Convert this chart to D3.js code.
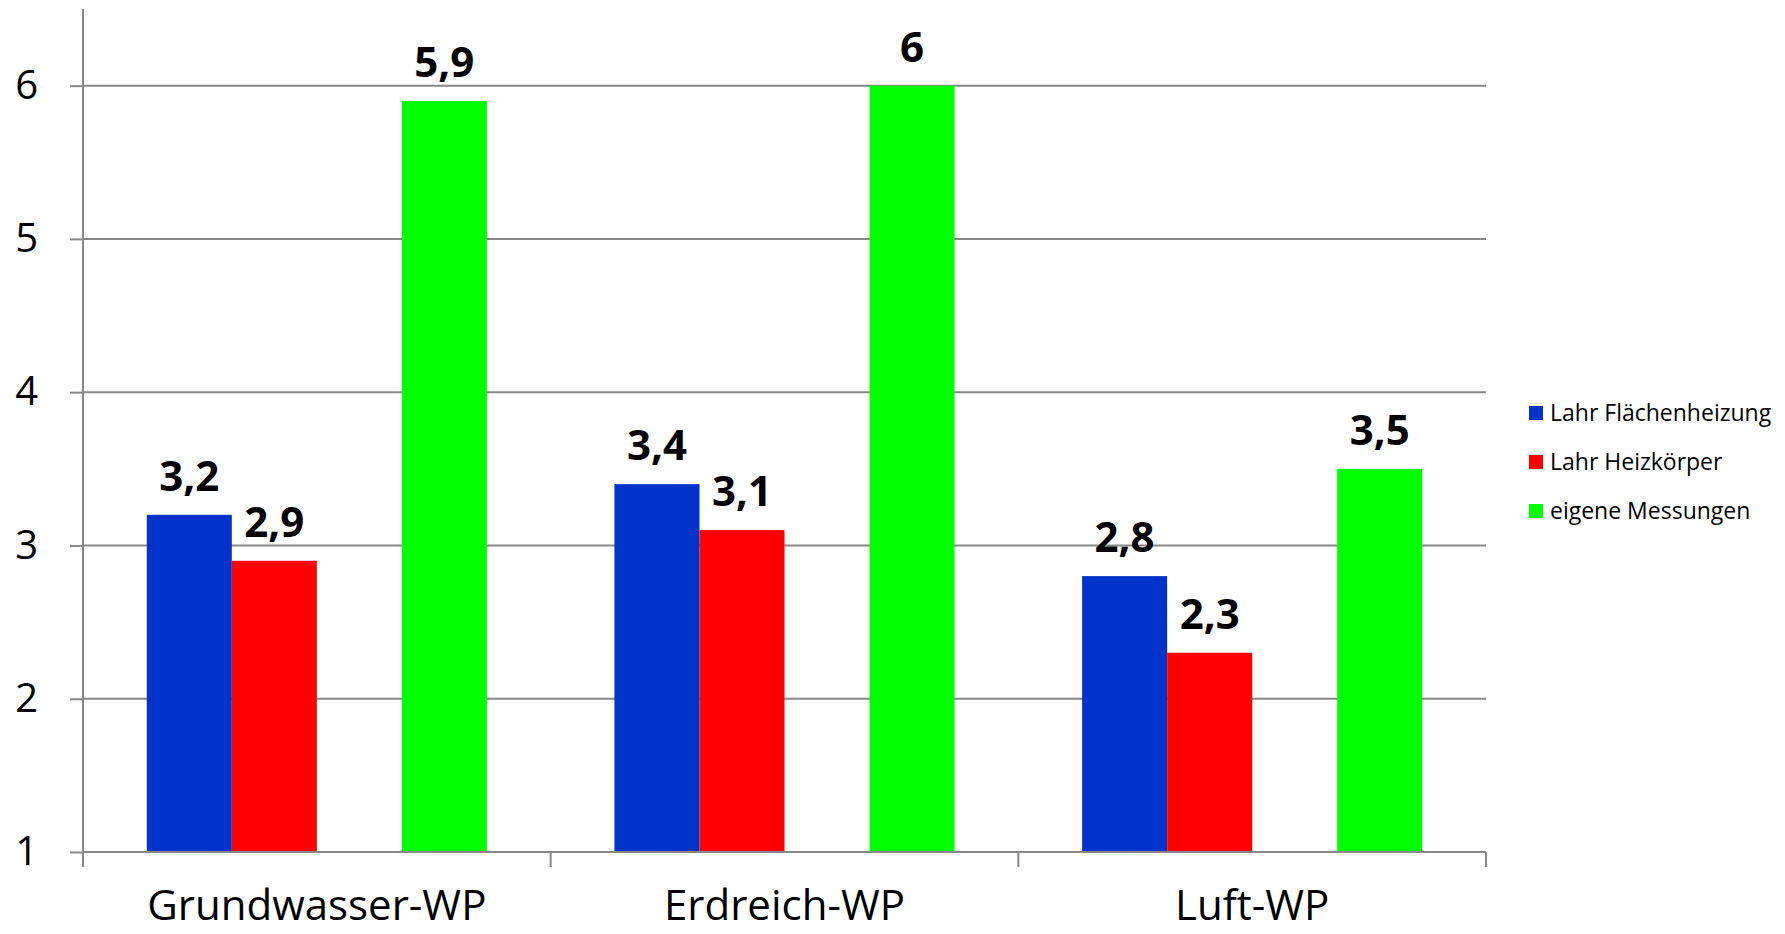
<!DOCTYPE html>
<html>
<head>
<meta charset="utf-8">
<script src="https://cdn.jsdelivr.net/npm/d3@7"></script>
<style>
  body { margin: 0; background: #fff; }
  svg { display: block; font-family: "Open Sans", "Noto Sans", sans-serif; }
</style>
</head>
<body>
<div id="chart"></div>
<script>
// chart data
var categories = ["Grundwasser-WP", "Erdreich-WP", "Luft-WP"];
var seriesNames = ["Lahr Flächenheizung", "Lahr Heizkörper", "eigene Messungen"];
var flaechenheizung = [3.2, 3.4, 2.8];
var heizkoerper = [2.9, 3.1, 2.3];
var eigeneMessungen = [5.9, 6, 3.5];
var yTicks = [1, 2, 3, 4, 5, 6];
// excel left an empty slot between red and green
var slotOrder = ["Lahr Flächenheizung", "Lahr Heizkörper", "", "eigene Messungen"];

var seriesValues = [flaechenheizung, heizkoerper, eigeneMessungen];
var colors = d3.scaleOrdinal().domain(seriesNames).range(["#0033CC", "#FF0000", "#00FF00"]);

var width = 1785, height = 934;
var plot = {left: 83, right: 1486, top: 9, bottom: 852};

var svg = d3.select("#chart").append("svg")
    .attr("width", width)
    .attr("height", height);

var x0 = d3.scaleBand().domain(categories)
    .range([plot.left, plot.right]).paddingInner(0).paddingOuter(0);
// gap of 3/4 bar on each side of the 4 slots
var x1 = d3.scaleBand().domain(slotOrder)
    .range([0, x0.bandwidth()]).paddingInner(0).paddingOuter(0.75);
var y = d3.scaleLinear().domain([1, 6.5]).range([plot.bottom, plot.top]);

// gridlines
svg.append("g").selectAll("line")
    .data(yTicks.slice(1))
    .join("line")
    .attr("x1", plot.left).attr("x2", plot.right)
    .attr("y1", function (d) { return y(d); })
    .attr("y2", function (d) { return y(d); })
    .attr("stroke", "#888").attr("stroke-width", 2);

// bars
var rows = [];
categories.forEach(function (c, i) {
    seriesNames.forEach(function (s, j) {
        rows.push({cat: c, series: s, value: seriesValues[j][i]});
    });
});

svg.append("g").selectAll("rect")
    .data(rows)
    .join("rect")
    .attr("x", function (d) { return x0(d.cat) + x1(d.series); })
    .attr("y", function (d) { return y(d.value); })
    .attr("width", x1.bandwidth())
    .attr("height", function (d) { return y(1) - y(d.value); })
    .attr("fill", function (d) { return colors(d.series); });

// value labels
svg.append("g").selectAll("text")
    .data(rows)
    .join("text")
    .attr("x", function (d) { return x0(d.cat) + x1(d.series) + x1.bandwidth() / 2; })
    .attr("y", function (d) { return y(d.value) - 24; })
    .attr("text-anchor", "middle")
    .attr("font-size", 42)
    .attr("font-weight", "bold")
    .attr("fill", "#000")
    .text(function (d) { return String(d.value).replace(".", ","); });

// y axis
var yAxis = svg.append("g")
    .attr("transform", "translate(" + plot.left + ",0)")
    .call(d3.axisLeft(y).tickValues(yTicks).tickSize(13).tickPadding(10)
        .tickFormat(d3.format("d")));
yAxis.select(".domain").attr("stroke", "#888").attr("stroke-width", 2)
    .attr("d", "M0," + y(1) + "V" + plot.top);
yAxis.selectAll(".tick line").attr("stroke", "#888").attr("stroke-width", 2);
yAxis.selectAll(".tick text").attr("font-size", 40).attr("fill", "#000")
    .attr("font-family", "Open Sans").attr("x", -45);

// x axis
var xAxis = svg.append("g")
    .attr("transform", "translate(0," + plot.bottom + ")")
    .call(d3.axisBottom(x0).tickSize(0).tickPadding(0));
xAxis.select(".domain").attr("stroke", "#888").attr("stroke-width", 2)
    .attr("d", "M" + plot.left + ",0H" + plot.right);
xAxis.selectAll(".tick text").attr("font-size", 42).attr("fill", "#000")
    .attr("font-family", "Open Sans").attr("dy", 0).attr("y", 68);
xAxis.append("g").selectAll("line")
    .data(d3.range(categories.length + 1))
    .join("line")
    .attr("x1", function (i) { return plot.left + i * x0.bandwidth(); })
    .attr("x2", function (i) { return plot.left + i * x0.bandwidth(); })
    .attr("y1", 0).attr("y2", 15)
    .attr("stroke", "#888").attr("stroke-width", 2);

// legend
var legend = svg.append("g").attr("transform", "translate(1529,413)");
var item = legend.selectAll("g")
    .data(seriesNames)
    .join("g")
    .attr("transform", function (d, i) { return "translate(0," + i * 49 + ")"; });
item.append("rect")
    .attr("x", 0).attr("y", -7).attr("width", 14).attr("height", 14)
    .attr("fill", function (d) { return colors(d); });
item.append("text")
    .attr("x", 21).attr("y", 0).attr("dy", "0.35em")
    .attr("font-size", 23).attr("fill", "#000")
    .text(function (d) { return d; });
</script>
</body>
</html>
